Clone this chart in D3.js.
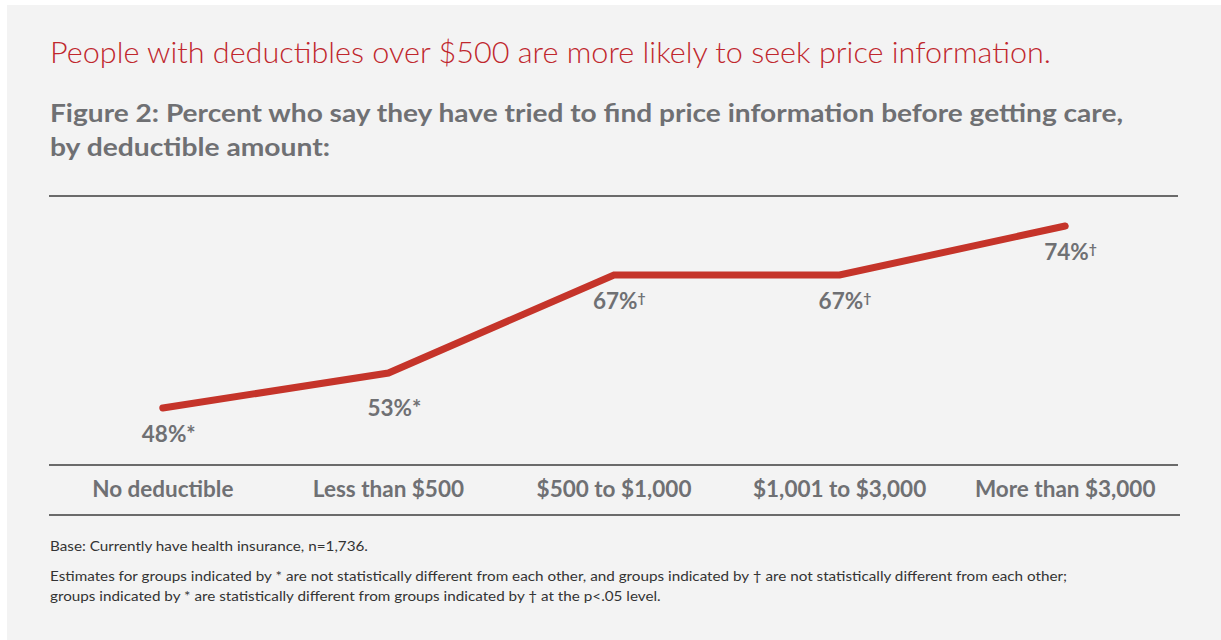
<!DOCTYPE html>
<html>
<head>
<meta charset="utf-8">
<script src="https://cdn.jsdelivr.net/npm/d3@7"></script>
<style>
  body { margin: 0; background: #fff; }
  svg { display: block; }
  text { font-family: Lato, "Open Sans", sans-serif; }
</style>
</head>
<body>
<script>
// chart data
var categories = ["No deductible", "Less than $500", "$500 to $1,000", "$1,001 to $3,000", "More than $3,000"];
var percents = [48, 53, 67, 67, 74];
var marks = ["*", "*", "\u2020", "\u2020", "\u2020"];

var title = "People with deductibles over $500 are more likely to seek price information.";
var subtitle = ["Figure 2: Percent who say they have tried to find price information before getting care,",
                "by deductible amount:"];
var notes = ["Base: Currently have health insurance, n=1,736.",
             "Estimates for groups indicated by * are not statistically different from each other, and groups indicated by \u2020 are not statistically different from each other;",
             "groups indicated by * are statistically different from groups indicated by \u2020 at the p<.05 level."];

var width = 1221, height = 640;
var red = "#c5342a", gray = "#6f7073";

var svg = d3.select("body").append("svg").attr("width", width).attr("height", height);

svg.append("rect").attr("x", 7).attr("y", 5).attr("width", width - 7).attr("height", height - 5)
    .attr("fill", "#f3f3f3");

// headings
svg.append("text").attr("x", 50).attr("y", 63).text(title)
    .attr("font-size", 30).attr("font-weight", 300).attr("fill", "#c0272d")
    .attr("textLength", 1001).attr("lengthAdjust", "spacingAndGlyphs");

var subLen = [1073, 280];
subtitle.forEach(function (s, i) {
    svg.append("text").attr("x", 50).attr("y", 122 + i * 34).text(s)
        .attr("font-size", 25).attr("font-weight", 700).attr("fill", gray)
        .attr("textLength", subLen[i]).attr("lengthAdjust", "spacingAndGlyphs");
});

// scales
var x = d3.scaleBand().domain(categories).range([50, 1178]);
var y = d3.scaleLinear().domain([0, 100]).range([744, 44]);
function cx(c) { return x(c) + x.bandwidth() / 2; }

// rules
[196, 465].forEach(function (ry) {
    svg.append("line").attr("x1", 49).attr("x2", 1178).attr("y1", ry).attr("y2", ry)
        .attr("stroke", "#6a6a6a").attr("stroke-width", 2);
});
svg.append("line").attr("x1", 49).attr("x2", 1180).attr("y1", 515).attr("y2", 515)
    .attr("stroke", "#6a6a6a").attr("stroke-width", 2);

// category axis
var axis = svg.append("g").attr("transform", "translate(0,465)")
    .call(d3.axisBottom(x).tickSize(0).tickPadding(0));
axis.select(".domain").remove();
axis.selectAll("text")
    .attr("y", 32).attr("dy", 0)
    .attr("font-family", "Lato, sans-serif").attr("font-size", 22.5).attr("font-weight", 700)
    .attr("fill", gray);

// line
var line = d3.line()
    .x(function (d, i) { return cx(categories[i]); })
    .y(function (d) { return y(d); });

svg.append("path").datum(percents).attr("d", line)
    .attr("fill", "none").attr("stroke", red).attr("stroke-width", 7)
    .attr("stroke-linecap", "round").attr("stroke-linejoin", "miter");

// value labels
var lab = svg.selectAll(".val").data(percents).enter().append("text")
    .attr("class", "val")
    .attr("x", function (d, i) { return cx(categories[i]) - 21; })
    .attr("y", function (d, i) { return y(d) + (i === 1 ? 43 : 34); })
    .attr("font-size", 22.5).attr("font-weight", 700).attr("fill", gray);
lab.append("tspan").text(function (d) { return d + "%"; });
lab.append("tspan")
    .text(function (d, i) { return marks[i]; })
    .attr("font-size", function (d, i) { return marks[i] === "*" ? 22 : 14; })
    .attr("dy", function (d, i) { return marks[i] === "*" ? 0 : -6; });

// footnotes, squeezed like the condensed original
var noteY = [551, 581, 601];
var noteText = notes.map(function (n, i) {
    return svg.append("text").attr("x", 50).attr("y", noteY[i]).text(n)
        .attr("font-size", 13.5).attr("fill", "#333");
});
var squeeze = 1017 / noteText[1].node().getComputedTextLength();
noteText.forEach(function (t) {
    t.attr("textLength", t.node().getComputedTextLength() * squeeze)
        .attr("lengthAdjust", "spacingAndGlyphs");
});
</script>
</body>
</html>
